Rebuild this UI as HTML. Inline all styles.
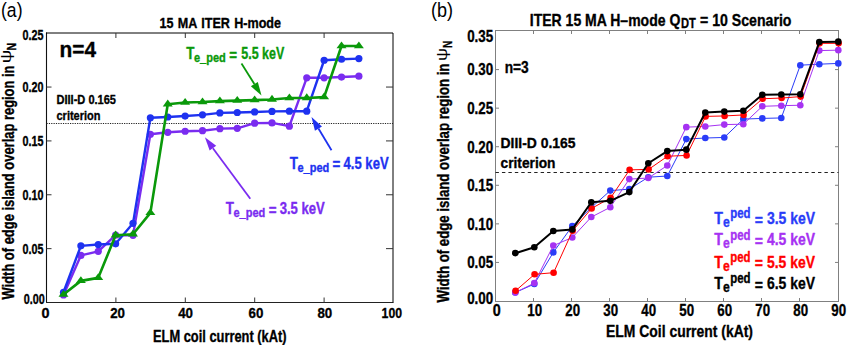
<!DOCTYPE html>
<html><head><meta charset="utf-8"><style>
html,body{margin:0;padding:0;background:#fff;}
svg{display:block;font-family:"Liberation Sans", sans-serif;}
</style></head><body>
<svg width="849" height="345" viewBox="0 0 849 345">
<rect width="849" height="345" fill="#fff"/>
<line x1="46.5" y1="302.5" x2="46.5" y2="32.5" stroke="#111" stroke-width="1.1"/>
<line x1="46" y1="302.5" x2="393.5" y2="302.5" stroke="#222" stroke-width="1.1"/>
<line x1="46" y1="33" x2="393" y2="33" stroke="#000" stroke-width="1"/>
<line x1="393" y1="33" x2="393" y2="302.5" stroke="#000" stroke-width="1"/>
<line x1="115.90" y1="302.5" x2="115.90" y2="297.5" stroke="#333" stroke-width="1"/>
<line x1="115.90" y1="33" x2="115.90" y2="38" stroke="#333" stroke-width="1"/>
<line x1="185.30" y1="302.5" x2="185.30" y2="297.5" stroke="#333" stroke-width="1"/>
<line x1="185.30" y1="33" x2="185.30" y2="38" stroke="#333" stroke-width="1"/>
<line x1="254.70" y1="302.5" x2="254.70" y2="297.5" stroke="#333" stroke-width="1"/>
<line x1="254.70" y1="33" x2="254.70" y2="38" stroke="#333" stroke-width="1"/>
<line x1="324.10" y1="302.5" x2="324.10" y2="297.5" stroke="#333" stroke-width="1"/>
<line x1="324.10" y1="33" x2="324.10" y2="38" stroke="#333" stroke-width="1"/>
<line x1="46.5" y1="248.64" x2="51.5" y2="248.64" stroke="#333" stroke-width="1"/>
<line x1="393" y1="248.64" x2="386" y2="248.64" stroke="#333" stroke-width="1"/>
<line x1="46.5" y1="194.78" x2="51.5" y2="194.78" stroke="#333" stroke-width="1"/>
<line x1="393" y1="194.78" x2="386" y2="194.78" stroke="#333" stroke-width="1"/>
<line x1="46.5" y1="140.92" x2="51.5" y2="140.92" stroke="#333" stroke-width="1"/>
<line x1="393" y1="140.92" x2="386" y2="140.92" stroke="#333" stroke-width="1"/>
<line x1="46.5" y1="87.06" x2="51.5" y2="87.06" stroke="#333" stroke-width="1"/>
<line x1="393" y1="87.06" x2="386" y2="87.06" stroke="#333" stroke-width="1"/>
<line x1="46.5" y1="123.5" x2="393" y2="123.5" stroke="#222" stroke-width="1" stroke-dasharray="1.2,1.15"/>
<polyline points="63.49,294.96 80.87,255.43 98.25,251.33 115.62,235.18 133.00,235.28 150.37,134.24 167.75,132.30 185.12,131.23 202.50,130.69 219.87,128.64 237.25,128.32 254.62,123.15 272.00,122.93 289.37,126.16 306.75,77.80 324.12,77.80 341.50,77.04 358.87,76.18" fill="none" stroke="#7a2cf0" stroke-width="2.4" stroke-linejoin="round"/>
<circle cx="63.49" cy="294.96" r="3.6" fill="#7a2cf0"/>
<circle cx="80.87" cy="255.43" r="3.6" fill="#7a2cf0"/>
<circle cx="98.25" cy="251.33" r="3.6" fill="#7a2cf0"/>
<circle cx="115.62" cy="235.18" r="3.6" fill="#7a2cf0"/>
<circle cx="133.00" cy="235.28" r="3.6" fill="#7a2cf0"/>
<circle cx="150.37" cy="134.24" r="3.6" fill="#7a2cf0"/>
<circle cx="167.75" cy="132.30" r="3.6" fill="#7a2cf0"/>
<circle cx="185.12" cy="131.23" r="3.6" fill="#7a2cf0"/>
<circle cx="202.50" cy="130.69" r="3.6" fill="#7a2cf0"/>
<circle cx="219.87" cy="128.64" r="3.6" fill="#7a2cf0"/>
<circle cx="237.25" cy="128.32" r="3.6" fill="#7a2cf0"/>
<circle cx="254.62" cy="123.15" r="3.6" fill="#7a2cf0"/>
<circle cx="272.00" cy="122.93" r="3.6" fill="#7a2cf0"/>
<circle cx="289.37" cy="126.16" r="3.6" fill="#7a2cf0"/>
<circle cx="306.75" cy="77.80" r="3.6" fill="#7a2cf0"/>
<circle cx="324.12" cy="77.80" r="3.6" fill="#7a2cf0"/>
<circle cx="341.50" cy="77.04" r="3.6" fill="#7a2cf0"/>
<circle cx="358.87" cy="76.18" r="3.6" fill="#7a2cf0"/>
<polyline points="63.49,292.27 80.87,245.84 98.25,244.55 115.62,243.79 133.00,223.33 150.37,117.76 167.75,117.01 185.12,116.04 202.50,114.85 219.87,112.91 237.25,112.48 254.62,111.94 272.00,111.40 289.37,111.19 306.75,111.19 324.12,60.24 341.50,59.27 358.87,58.62" fill="none" stroke="#1e32f0" stroke-width="2.4" stroke-linejoin="round"/>
<circle cx="63.49" cy="292.27" r="3.6" fill="#1e32f0"/>
<circle cx="80.87" cy="245.84" r="3.6" fill="#1e32f0"/>
<circle cx="98.25" cy="244.55" r="3.6" fill="#1e32f0"/>
<circle cx="115.62" cy="243.79" r="3.6" fill="#1e32f0"/>
<circle cx="133.00" cy="223.33" r="3.6" fill="#1e32f0"/>
<circle cx="150.37" cy="117.76" r="3.6" fill="#1e32f0"/>
<circle cx="167.75" cy="117.01" r="3.6" fill="#1e32f0"/>
<circle cx="185.12" cy="116.04" r="3.6" fill="#1e32f0"/>
<circle cx="202.50" cy="114.85" r="3.6" fill="#1e32f0"/>
<circle cx="219.87" cy="112.91" r="3.6" fill="#1e32f0"/>
<circle cx="237.25" cy="112.48" r="3.6" fill="#1e32f0"/>
<circle cx="254.62" cy="111.94" r="3.6" fill="#1e32f0"/>
<circle cx="272.00" cy="111.40" r="3.6" fill="#1e32f0"/>
<circle cx="289.37" cy="111.19" r="3.6" fill="#1e32f0"/>
<circle cx="306.75" cy="111.19" r="3.6" fill="#1e32f0"/>
<circle cx="324.12" cy="60.24" r="3.6" fill="#1e32f0"/>
<circle cx="341.50" cy="59.27" r="3.6" fill="#1e32f0"/>
<circle cx="358.87" cy="58.62" r="3.6" fill="#1e32f0"/>
<polyline points="63.49,294.54 80.87,280.86 98.25,277.85 115.62,235.19 133.00,234.22 150.37,212.89 167.75,104.20 185.12,102.48 202.50,102.05 219.87,101.08 237.25,100.65 254.62,100.11 272.00,99.46 289.37,98.06 306.75,97.95 324.12,97.09 341.50,46.03 358.87,46.03" fill="none" stroke="#0a990a" stroke-width="2.6" stroke-linejoin="round"/>
<polygon points="63.49,289.94 58.49,296.74 68.50,296.74" fill="#0a990a"/>
<polygon points="80.87,276.26 75.87,283.06 85.87,283.06" fill="#0a990a"/>
<polygon points="98.25,273.25 93.25,280.05 103.25,280.05" fill="#0a990a"/>
<polygon points="115.62,230.59 110.62,237.39 120.62,237.39" fill="#0a990a"/>
<polygon points="133.00,229.62 128.00,236.42 138.00,236.42" fill="#0a990a"/>
<polygon points="150.37,208.29 145.37,215.09 155.37,215.09" fill="#0a990a"/>
<polygon points="167.75,99.60 162.75,106.40 172.75,106.40" fill="#0a990a"/>
<polygon points="185.12,97.88 180.12,104.68 190.12,104.68" fill="#0a990a"/>
<polygon points="202.50,97.45 197.50,104.25 207.50,104.25" fill="#0a990a"/>
<polygon points="219.87,96.48 214.87,103.28 224.87,103.28" fill="#0a990a"/>
<polygon points="237.25,96.05 232.25,102.85 242.25,102.85" fill="#0a990a"/>
<polygon points="254.62,95.51 249.62,102.31 259.62,102.31" fill="#0a990a"/>
<polygon points="272.00,94.86 267.00,101.66 277.00,101.66" fill="#0a990a"/>
<polygon points="289.37,93.46 284.37,100.26 294.37,100.26" fill="#0a990a"/>
<polygon points="306.75,93.35 301.75,100.15 311.75,100.15" fill="#0a990a"/>
<polygon points="324.12,92.49 319.12,99.29 329.12,99.29" fill="#0a990a"/>
<polygon points="341.50,41.43 336.50,48.23 346.50,48.23" fill="#0a990a"/>
<polygon points="358.87,41.43 353.87,48.23 363.87,48.23" fill="#0a990a"/>
<line x1="241.5" y1="63.5" x2="254.35" y2="84.05" stroke="#0a990a" stroke-width="1.8"/>
<polygon points="261.5,95.5 250.87,86.23 257.82,81.88" fill="#0a990a"/>
<line x1="331.5" y1="150.3" x2="318.45" y2="128.57" stroke="#1e32f0" stroke-width="1.8"/>
<polygon points="311.5,117 321.97,126.46 314.94,130.68" fill="#1e32f0"/>
<line x1="250.3" y1="198.8" x2="212.92" y2="148.16" stroke="#7a2cf0" stroke-width="1.8"/>
<polygon points="204.9,137.3 216.22,145.73 209.62,150.60" fill="#7a2cf0"/>
<text x="1" y="16.6" font-size="20.5" font-weight="normal" fill="#000" text-anchor="start" textLength="21.5" lengthAdjust="spacingAndGlyphs" >(a)</text>
<text x="159.5" y="28.3" font-size="15.4" font-weight="bold" fill="#000" text-anchor="start" textLength="121.5" lengthAdjust="spacingAndGlyphs" stroke="#000" stroke-width="0.35" stroke-linejoin="round" word-spacing="1">15 MA ITER H-mode</text>
<text x="59.5" y="56.8" font-size="22" font-weight="bold" fill="#000" text-anchor="start" textLength="36.5" lengthAdjust="spacingAndGlyphs" stroke="#000" stroke-width="0.35" stroke-linejoin="round" >n=4</text>
<text x="56.5" y="104.2" font-size="13" font-weight="bold" fill="#000" text-anchor="start" textLength="59.5" lengthAdjust="spacingAndGlyphs" stroke="#000" stroke-width="0.35" stroke-linejoin="round" >DIII-D 0.165</text>
<text x="56.5" y="120.2" font-size="13" font-weight="bold" fill="#000" text-anchor="start" textLength="44" lengthAdjust="spacingAndGlyphs" stroke="#000" stroke-width="0.35" stroke-linejoin="round" >criterion</text>
<text x="186.3" y="59.0" font-size="16" font-weight="bold" fill="#0a990a" text-anchor="start" textLength="8.2" lengthAdjust="spacingAndGlyphs" stroke="#0a990a" stroke-width="0.35" stroke-linejoin="round" >T</text>
<text x="194.0" y="62.4" font-size="13" font-weight="bold" fill="#0a990a" text-anchor="start" textLength="31.8" lengthAdjust="spacingAndGlyphs" stroke="#0a990a" stroke-width="0.35" stroke-linejoin="round" >e_ped</text>
<text x="229.3" y="60.8" font-size="16" font-weight="bold" fill="#0a990a" text-anchor="start" textLength="7.8" lengthAdjust="spacingAndGlyphs" stroke="#0a990a" stroke-width="0.35" stroke-linejoin="round" >=</text>
<text x="241.3" y="59.0" font-size="16" font-weight="bold" fill="#0a990a" text-anchor="start" textLength="43" lengthAdjust="spacingAndGlyphs" stroke="#0a990a" stroke-width="0.35" stroke-linejoin="round" >5.5 keV</text>
<text x="289.7" y="168.6" font-size="16" font-weight="bold" fill="#1e32f0" text-anchor="start" textLength="8.2" lengthAdjust="spacingAndGlyphs" stroke="#1e32f0" stroke-width="0.35" stroke-linejoin="round" >T</text>
<text x="297.5" y="172.0" font-size="13" font-weight="bold" fill="#1e32f0" text-anchor="start" textLength="31.8" lengthAdjust="spacingAndGlyphs" stroke="#1e32f0" stroke-width="0.35" stroke-linejoin="round" >e_ped</text>
<text x="332.6" y="170.4" font-size="16" font-weight="bold" fill="#1e32f0" text-anchor="start" textLength="7.8" lengthAdjust="spacingAndGlyphs" stroke="#1e32f0" stroke-width="0.35" stroke-linejoin="round" >=</text>
<text x="343.6" y="168.6" font-size="16" font-weight="bold" fill="#1e32f0" text-anchor="start" textLength="45" lengthAdjust="spacingAndGlyphs" stroke="#1e32f0" stroke-width="0.35" stroke-linejoin="round" >4.5 keV</text>
<text x="225.8" y="214.0" font-size="16" font-weight="bold" fill="#7a2cf0" text-anchor="start" textLength="8.2" lengthAdjust="spacingAndGlyphs" stroke="#7a2cf0" stroke-width="0.35" stroke-linejoin="round" >T</text>
<text x="233.5" y="217.4" font-size="13" font-weight="bold" fill="#7a2cf0" text-anchor="start" textLength="31.8" lengthAdjust="spacingAndGlyphs" stroke="#7a2cf0" stroke-width="0.35" stroke-linejoin="round" >e_ped</text>
<text x="268.7" y="215.8" font-size="16" font-weight="bold" fill="#7a2cf0" text-anchor="start" textLength="7.8" lengthAdjust="spacingAndGlyphs" stroke="#7a2cf0" stroke-width="0.35" stroke-linejoin="round" >=</text>
<text x="279.7" y="214.0" font-size="16" font-weight="bold" fill="#7a2cf0" text-anchor="start" textLength="45" lengthAdjust="spacingAndGlyphs" stroke="#7a2cf0" stroke-width="0.35" stroke-linejoin="round" >3.5 keV</text>
<text x="44.8" y="304.3" font-size="14" font-weight="bold" fill="#000" text-anchor="end" textLength="21" lengthAdjust="spacingAndGlyphs" stroke="#000" stroke-width="0.35" stroke-linejoin="round" >0.00</text>
<text x="43.4" y="253.64" font-size="14" font-weight="bold" fill="#000" text-anchor="end" textLength="21" lengthAdjust="spacingAndGlyphs" stroke="#000" stroke-width="0.35" stroke-linejoin="round" >0.05</text>
<text x="43.4" y="199.77999999999997" font-size="14" font-weight="bold" fill="#000" text-anchor="end" textLength="21" lengthAdjust="spacingAndGlyphs" stroke="#000" stroke-width="0.35" stroke-linejoin="round" >0.10</text>
<text x="43.4" y="145.91999999999996" font-size="14" font-weight="bold" fill="#000" text-anchor="end" textLength="21" lengthAdjust="spacingAndGlyphs" stroke="#000" stroke-width="0.35" stroke-linejoin="round" >0.15</text>
<text x="43.4" y="92.05999999999997" font-size="14" font-weight="bold" fill="#000" text-anchor="end" textLength="21" lengthAdjust="spacingAndGlyphs" stroke="#000" stroke-width="0.35" stroke-linejoin="round" >0.20</text>
<text x="43.4" y="39.8" font-size="14" font-weight="bold" fill="#000" text-anchor="end" textLength="21" lengthAdjust="spacingAndGlyphs" stroke="#000" stroke-width="0.35" stroke-linejoin="round" >0.25</text>
<text x="45.6" y="317.7" font-size="15.5" font-weight="bold" fill="#000" text-anchor="middle" textLength="8" lengthAdjust="spacingAndGlyphs" stroke="#000" stroke-width="0.35" stroke-linejoin="round" >0</text>
<text x="117.6" y="317.7" font-size="15.5" font-weight="bold" fill="#000" text-anchor="middle" textLength="14.8" lengthAdjust="spacingAndGlyphs" stroke="#000" stroke-width="0.35" stroke-linejoin="round" >20</text>
<text x="185.6" y="317.7" font-size="15.5" font-weight="bold" fill="#000" text-anchor="middle" textLength="14.8" lengthAdjust="spacingAndGlyphs" stroke="#000" stroke-width="0.35" stroke-linejoin="round" >40</text>
<text x="256" y="317.7" font-size="15.5" font-weight="bold" fill="#000" text-anchor="middle" textLength="14.8" lengthAdjust="spacingAndGlyphs" stroke="#000" stroke-width="0.35" stroke-linejoin="round" >60</text>
<text x="324.8" y="317.7" font-size="15.5" font-weight="bold" fill="#000" text-anchor="middle" textLength="14.8" lengthAdjust="spacingAndGlyphs" stroke="#000" stroke-width="0.35" stroke-linejoin="round" >80</text>
<text x="391.8" y="317.7" font-size="15.5" font-weight="bold" fill="#000" text-anchor="middle" textLength="20.5" lengthAdjust="spacingAndGlyphs" stroke="#000" stroke-width="0.35" stroke-linejoin="round" >100</text>
<text x="153" y="341.6" font-size="16" font-weight="bold" fill="#000" text-anchor="start" textLength="133.5" lengthAdjust="spacingAndGlyphs" stroke="#000" stroke-width="0.35" stroke-linejoin="round" >ELM coil current (kAt)</text>
<text transform="translate(13.6,299.5) rotate(-90)" font-size="16.5" font-weight="bold" stroke="#000" stroke-width="0.35" textLength="234.0" lengthAdjust="spacingAndGlyphs">Width of edge island overlap region in</text>
<text transform="translate(11,56.6) rotate(-90) scale(1.35,1)" font-size="14" text-anchor="middle">ψ</text>
<text transform="translate(15.5,50.4) rotate(-90)" font-size="12.5" font-weight="bold" stroke="#000" stroke-width="0.35" textLength="7.6" lengthAdjust="spacingAndGlyphs">N</text>
<rect x="495.5" y="30.5" width="343.0" height="271.0" fill="none" stroke="#808080" stroke-width="1"/>
<line x1="533.50" y1="301.5" x2="533.50" y2="298.0" stroke="#808080" stroke-width="1"/>
<line x1="533.50" y1="30.5" x2="533.50" y2="34.0" stroke="#808080" stroke-width="1"/>
<line x1="571.50" y1="301.5" x2="571.50" y2="298.0" stroke="#808080" stroke-width="1"/>
<line x1="571.50" y1="30.5" x2="571.50" y2="34.0" stroke="#808080" stroke-width="1"/>
<line x1="609.50" y1="301.5" x2="609.50" y2="298.0" stroke="#808080" stroke-width="1"/>
<line x1="609.50" y1="30.5" x2="609.50" y2="34.0" stroke="#808080" stroke-width="1"/>
<line x1="647.50" y1="301.5" x2="647.50" y2="298.0" stroke="#808080" stroke-width="1"/>
<line x1="647.50" y1="30.5" x2="647.50" y2="34.0" stroke="#808080" stroke-width="1"/>
<line x1="685.50" y1="301.5" x2="685.50" y2="298.0" stroke="#808080" stroke-width="1"/>
<line x1="685.50" y1="30.5" x2="685.50" y2="34.0" stroke="#808080" stroke-width="1"/>
<line x1="723.50" y1="301.5" x2="723.50" y2="298.0" stroke="#808080" stroke-width="1"/>
<line x1="723.50" y1="30.5" x2="723.50" y2="34.0" stroke="#808080" stroke-width="1"/>
<line x1="761.50" y1="301.5" x2="761.50" y2="298.0" stroke="#808080" stroke-width="1"/>
<line x1="761.50" y1="30.5" x2="761.50" y2="34.0" stroke="#808080" stroke-width="1"/>
<line x1="799.50" y1="301.5" x2="799.50" y2="298.0" stroke="#808080" stroke-width="1"/>
<line x1="799.50" y1="30.5" x2="799.50" y2="34.0" stroke="#808080" stroke-width="1"/>
<line x1="495.5" y1="262.43" x2="499.0" y2="262.43" stroke="#808080" stroke-width="1"/>
<line x1="838.5" y1="262.43" x2="835.0" y2="262.43" stroke="#808080" stroke-width="1"/>
<line x1="495.5" y1="223.86" x2="499.0" y2="223.86" stroke="#808080" stroke-width="1"/>
<line x1="838.5" y1="223.86" x2="835.0" y2="223.86" stroke="#808080" stroke-width="1"/>
<line x1="495.5" y1="185.29" x2="499.0" y2="185.29" stroke="#808080" stroke-width="1"/>
<line x1="838.5" y1="185.29" x2="835.0" y2="185.29" stroke="#808080" stroke-width="1"/>
<line x1="495.5" y1="146.72" x2="499.0" y2="146.72" stroke="#808080" stroke-width="1"/>
<line x1="838.5" y1="146.72" x2="835.0" y2="146.72" stroke="#808080" stroke-width="1"/>
<line x1="495.5" y1="108.15" x2="499.0" y2="108.15" stroke="#808080" stroke-width="1"/>
<line x1="838.5" y1="108.15" x2="835.0" y2="108.15" stroke="#808080" stroke-width="1"/>
<line x1="495.5" y1="69.58" x2="499.0" y2="69.58" stroke="#808080" stroke-width="1"/>
<line x1="838.5" y1="69.58" x2="835.0" y2="69.58" stroke="#808080" stroke-width="1"/>
<line x1="495.5" y1="172.5" x2="838.5" y2="172.5" stroke="#222" stroke-width="1" stroke-dasharray="3.4,3.05"/>
<polyline points="515.30,292.51 534.30,284.03 553.30,252.40 572.30,226.02 591.30,207.66 610.30,190.61 629.30,189.15 648.30,177.19 667.30,176.03 686.30,139.08 705.30,138.00 724.30,137.46 743.30,119.10 762.30,118.41 781.30,117.95 800.30,65.18 819.30,64.18 838.30,63.41" fill="none" stroke="#2a3cf8" stroke-width="1.0" stroke-linejoin="round"/>
<circle cx="515.30" cy="292.51" r="3.3" fill="#2a3cf8"/>
<circle cx="534.30" cy="284.03" r="3.3" fill="#2a3cf8"/>
<circle cx="553.30" cy="252.40" r="3.3" fill="#2a3cf8"/>
<circle cx="572.30" cy="226.02" r="3.3" fill="#2a3cf8"/>
<circle cx="591.30" cy="207.66" r="3.3" fill="#2a3cf8"/>
<circle cx="610.30" cy="190.61" r="3.3" fill="#2a3cf8"/>
<circle cx="629.30" cy="189.15" r="3.3" fill="#2a3cf8"/>
<circle cx="648.30" cy="177.19" r="3.3" fill="#2a3cf8"/>
<circle cx="667.30" cy="176.03" r="3.3" fill="#2a3cf8"/>
<circle cx="686.30" cy="139.08" r="3.3" fill="#2a3cf8"/>
<circle cx="705.30" cy="138.00" r="3.3" fill="#2a3cf8"/>
<circle cx="724.30" cy="137.46" r="3.3" fill="#2a3cf8"/>
<circle cx="743.30" cy="119.10" r="3.3" fill="#2a3cf8"/>
<circle cx="762.30" cy="118.41" r="3.3" fill="#2a3cf8"/>
<circle cx="781.30" cy="117.95" r="3.3" fill="#2a3cf8"/>
<circle cx="800.30" cy="65.18" r="3.3" fill="#2a3cf8"/>
<circle cx="819.30" cy="64.18" r="3.3" fill="#2a3cf8"/>
<circle cx="838.30" cy="63.41" r="3.3" fill="#2a3cf8"/>
<polyline points="515.30,292.51 534.30,283.10 553.30,245.61 572.30,237.51 591.30,217.07 610.30,207.27 629.30,179.12 648.30,178.04 667.30,165.54 686.30,127.13 705.30,126.43 724.30,124.58 743.30,124.20 762.30,106.30 781.30,105.68 800.30,105.22 819.30,50.60 838.30,50.14" fill="none" stroke="#a632f2" stroke-width="1.0" stroke-linejoin="round"/>
<circle cx="515.30" cy="292.51" r="3.3" fill="#a632f2"/>
<circle cx="534.30" cy="283.10" r="3.3" fill="#a632f2"/>
<circle cx="553.30" cy="245.61" r="3.3" fill="#a632f2"/>
<circle cx="572.30" cy="237.51" r="3.3" fill="#a632f2"/>
<circle cx="591.30" cy="217.07" r="3.3" fill="#a632f2"/>
<circle cx="610.30" cy="207.27" r="3.3" fill="#a632f2"/>
<circle cx="629.30" cy="179.12" r="3.3" fill="#a632f2"/>
<circle cx="648.30" cy="178.04" r="3.3" fill="#a632f2"/>
<circle cx="667.30" cy="165.54" r="3.3" fill="#a632f2"/>
<circle cx="686.30" cy="127.13" r="3.3" fill="#a632f2"/>
<circle cx="705.30" cy="126.43" r="3.3" fill="#a632f2"/>
<circle cx="724.30" cy="124.58" r="3.3" fill="#a632f2"/>
<circle cx="743.30" cy="124.20" r="3.3" fill="#a632f2"/>
<circle cx="762.30" cy="106.30" r="3.3" fill="#a632f2"/>
<circle cx="781.30" cy="105.68" r="3.3" fill="#a632f2"/>
<circle cx="800.30" cy="105.22" r="3.3" fill="#a632f2"/>
<circle cx="819.30" cy="50.60" r="3.3" fill="#a632f2"/>
<circle cx="838.30" cy="50.14" r="3.3" fill="#a632f2"/>
<polyline points="515.60,290.74 534.60,274.31 553.60,272.69 572.60,230.80 591.60,208.43 610.60,197.86 629.60,169.86 648.60,169.40 667.60,156.21 686.60,155.44 705.60,116.40 724.60,115.94 743.60,114.94 762.60,98.74 781.60,98.04 800.60,96.58 819.60,43.35 838.60,43.35" fill="none" stroke="#ff0000" stroke-width="1.0" stroke-linejoin="round"/>
<circle cx="515.60" cy="290.74" r="3.3" fill="#ff0000"/>
<circle cx="534.60" cy="274.31" r="3.3" fill="#ff0000"/>
<circle cx="553.60" cy="272.69" r="3.3" fill="#ff0000"/>
<circle cx="572.60" cy="230.80" r="3.3" fill="#ff0000"/>
<circle cx="591.60" cy="208.43" r="3.3" fill="#ff0000"/>
<circle cx="610.60" cy="197.86" r="3.3" fill="#ff0000"/>
<circle cx="629.60" cy="169.86" r="3.3" fill="#ff0000"/>
<circle cx="648.60" cy="169.40" r="3.3" fill="#ff0000"/>
<circle cx="667.60" cy="156.21" r="3.3" fill="#ff0000"/>
<circle cx="686.60" cy="155.44" r="3.3" fill="#ff0000"/>
<circle cx="705.60" cy="116.40" r="3.3" fill="#ff0000"/>
<circle cx="724.60" cy="115.94" r="3.3" fill="#ff0000"/>
<circle cx="743.60" cy="114.94" r="3.3" fill="#ff0000"/>
<circle cx="762.60" cy="98.74" r="3.3" fill="#ff0000"/>
<circle cx="781.60" cy="98.04" r="3.3" fill="#ff0000"/>
<circle cx="800.60" cy="96.58" r="3.3" fill="#ff0000"/>
<circle cx="819.60" cy="43.35" r="3.3" fill="#ff0000"/>
<circle cx="838.60" cy="43.35" r="3.3" fill="#ff0000"/>
<polyline points="515.30,253.17 534.30,247.31 553.30,231.03 572.30,229.41 591.30,202.26 610.30,200.87 629.30,192.08 648.30,163.23 667.30,151.12 686.30,149.65 705.30,112.55 724.30,111.62 743.30,110.77 762.30,94.80 781.30,94.57 800.30,94.26 819.30,42.04 838.30,41.66" fill="none" stroke="#000" stroke-width="2.0" stroke-linejoin="round"/>
<circle cx="515.30" cy="253.17" r="3.3" fill="#000"/>
<circle cx="534.30" cy="247.31" r="3.3" fill="#000"/>
<circle cx="553.30" cy="231.03" r="3.3" fill="#000"/>
<circle cx="572.30" cy="229.41" r="3.3" fill="#000"/>
<circle cx="591.30" cy="202.26" r="3.3" fill="#000"/>
<circle cx="610.30" cy="200.87" r="3.3" fill="#000"/>
<circle cx="629.30" cy="192.08" r="3.3" fill="#000"/>
<circle cx="648.30" cy="163.23" r="3.3" fill="#000"/>
<circle cx="667.30" cy="151.12" r="3.3" fill="#000"/>
<circle cx="686.30" cy="149.65" r="3.3" fill="#000"/>
<circle cx="705.30" cy="112.55" r="3.3" fill="#000"/>
<circle cx="724.30" cy="111.62" r="3.3" fill="#000"/>
<circle cx="743.30" cy="110.77" r="3.3" fill="#000"/>
<circle cx="762.30" cy="94.80" r="3.3" fill="#000"/>
<circle cx="781.30" cy="94.57" r="3.3" fill="#000"/>
<circle cx="800.30" cy="94.26" r="3.3" fill="#000"/>
<circle cx="819.30" cy="42.04" r="3.3" fill="#000"/>
<circle cx="838.30" cy="41.66" r="3.3" fill="#000"/>
<text x="431" y="16.6" font-size="20.5" font-weight="normal" fill="#000" text-anchor="start" textLength="22" lengthAdjust="spacingAndGlyphs" >(b)</text>
<text x="504.7" y="73.2" font-size="16" font-weight="bold" fill="#000" text-anchor="start" textLength="24" lengthAdjust="spacingAndGlyphs" stroke="#000" stroke-width="0.35" stroke-linejoin="round" >n=3</text>
<text x="500.5" y="147.8" font-size="15.5" font-weight="bold" fill="#000" text-anchor="start" textLength="75" lengthAdjust="spacingAndGlyphs" stroke="#000" stroke-width="0.35" stroke-linejoin="round" >DIII-D 0.165</text>
<text x="500.5" y="168" font-size="15.5" font-weight="bold" fill="#000" text-anchor="start" textLength="55" lengthAdjust="spacingAndGlyphs" stroke="#000" stroke-width="0.35" stroke-linejoin="round" >criterion</text>
<text x="529.8" y="25.6" font-size="17" font-weight="bold" fill="#000" text-anchor="start" textLength="150.5" lengthAdjust="spacingAndGlyphs" stroke="#000" stroke-width="0.35" stroke-linejoin="round" >ITER 15 MA H–mode Q</text>
<text x="681" y="28.3" font-size="14" font-weight="bold" fill="#000" text-anchor="start" textLength="14.8" lengthAdjust="spacingAndGlyphs" stroke="#000" stroke-width="0.35" stroke-linejoin="round" >DT</text>
<text x="700" y="25.6" font-size="17" font-weight="bold" fill="#000" text-anchor="start" textLength="91.5" lengthAdjust="spacingAndGlyphs" stroke="#000" stroke-width="0.35" stroke-linejoin="round" >= 10 Scenario</text>
<text x="714.3" y="223.9" font-size="16.5" font-weight="bold" fill="#2a3cf8" text-anchor="start" textLength="8.7" lengthAdjust="spacingAndGlyphs" stroke="#2a3cf8" stroke-width="0.35" stroke-linejoin="round" >T</text>
<text x="723" y="226.9" font-size="15" font-weight="bold" fill="#2a3cf8" text-anchor="start" textLength="6.8" lengthAdjust="spacingAndGlyphs" stroke="#2a3cf8" stroke-width="0.35" stroke-linejoin="round" >e</text>
<text x="730.2" y="218.20000000000002" font-size="14" font-weight="bold" fill="#2a3cf8" text-anchor="start" textLength="20.3" lengthAdjust="spacingAndGlyphs" stroke="#2a3cf8" stroke-width="0.35" stroke-linejoin="round" >ped</text>
<text x="754.8" y="225.5" font-size="17" font-weight="bold" fill="#2a3cf8" text-anchor="start" textLength="8.2" lengthAdjust="spacingAndGlyphs" stroke="#2a3cf8" stroke-width="0.35" stroke-linejoin="round" >=</text>
<text x="767.0" y="223.9" font-size="16.8" font-weight="bold" fill="#2a3cf8" text-anchor="start" textLength="48" lengthAdjust="spacingAndGlyphs" stroke="#2a3cf8" stroke-width="0.35" stroke-linejoin="round" >3.5 keV</text>
<text x="714.3" y="245.2" font-size="16.5" font-weight="bold" fill="#a632f2" text-anchor="start" textLength="8.7" lengthAdjust="spacingAndGlyphs" stroke="#a632f2" stroke-width="0.35" stroke-linejoin="round" >T</text>
<text x="723" y="248.2" font-size="15" font-weight="bold" fill="#a632f2" text-anchor="start" textLength="6.8" lengthAdjust="spacingAndGlyphs" stroke="#a632f2" stroke-width="0.35" stroke-linejoin="round" >e</text>
<text x="730.2" y="239.5" font-size="14" font-weight="bold" fill="#a632f2" text-anchor="start" textLength="20.3" lengthAdjust="spacingAndGlyphs" stroke="#a632f2" stroke-width="0.35" stroke-linejoin="round" >ped</text>
<text x="754.8" y="246.79999999999998" font-size="17" font-weight="bold" fill="#a632f2" text-anchor="start" textLength="8.2" lengthAdjust="spacingAndGlyphs" stroke="#a632f2" stroke-width="0.35" stroke-linejoin="round" >=</text>
<text x="767.0" y="245.2" font-size="16.8" font-weight="bold" fill="#a632f2" text-anchor="start" textLength="48" lengthAdjust="spacingAndGlyphs" stroke="#a632f2" stroke-width="0.35" stroke-linejoin="round" >4.5 keV</text>
<text x="714.3" y="267.7" font-size="16.5" font-weight="bold" fill="#ff0000" text-anchor="start" textLength="8.7" lengthAdjust="spacingAndGlyphs" stroke="#ff0000" stroke-width="0.35" stroke-linejoin="round" >T</text>
<text x="723" y="270.7" font-size="15" font-weight="bold" fill="#ff0000" text-anchor="start" textLength="6.8" lengthAdjust="spacingAndGlyphs" stroke="#ff0000" stroke-width="0.35" stroke-linejoin="round" >e</text>
<text x="730.2" y="262.0" font-size="14" font-weight="bold" fill="#ff0000" text-anchor="start" textLength="20.3" lengthAdjust="spacingAndGlyphs" stroke="#ff0000" stroke-width="0.35" stroke-linejoin="round" >ped</text>
<text x="754.8" y="269.3" font-size="17" font-weight="bold" fill="#ff0000" text-anchor="start" textLength="8.2" lengthAdjust="spacingAndGlyphs" stroke="#ff0000" stroke-width="0.35" stroke-linejoin="round" >=</text>
<text x="767.0" y="267.7" font-size="16.8" font-weight="bold" fill="#ff0000" text-anchor="start" textLength="48" lengthAdjust="spacingAndGlyphs" stroke="#ff0000" stroke-width="0.35" stroke-linejoin="round" >5.5 keV</text>
<text x="714.3" y="288.9" font-size="16.5" font-weight="bold" fill="#000" text-anchor="start" textLength="8.7" lengthAdjust="spacingAndGlyphs" stroke="#000" stroke-width="0.35" stroke-linejoin="round" >T</text>
<text x="723" y="291.9" font-size="15" font-weight="bold" fill="#000" text-anchor="start" textLength="6.8" lengthAdjust="spacingAndGlyphs" stroke="#000" stroke-width="0.35" stroke-linejoin="round" >e</text>
<text x="730.2" y="283.2" font-size="14" font-weight="bold" fill="#000" text-anchor="start" textLength="20.3" lengthAdjust="spacingAndGlyphs" stroke="#000" stroke-width="0.35" stroke-linejoin="round" >ped</text>
<text x="754.8" y="290.5" font-size="17" font-weight="bold" fill="#000" text-anchor="start" textLength="8.2" lengthAdjust="spacingAndGlyphs" stroke="#000" stroke-width="0.35" stroke-linejoin="round" >=</text>
<text x="767.0" y="288.9" font-size="16.8" font-weight="bold" fill="#000" text-anchor="start" textLength="48" lengthAdjust="spacingAndGlyphs" stroke="#000" stroke-width="0.35" stroke-linejoin="round" >6.5 keV</text>
<text x="493.2" y="303.7" font-size="16.5" font-weight="bold" fill="#000" text-anchor="end" textLength="26" lengthAdjust="spacingAndGlyphs" stroke="#000" stroke-width="0.35" stroke-linejoin="round" >0.00</text>
<text x="493.2" y="268.33" font-size="16.5" font-weight="bold" fill="#000" text-anchor="end" textLength="26" lengthAdjust="spacingAndGlyphs" stroke="#000" stroke-width="0.35" stroke-linejoin="round" >0.05</text>
<text x="493.2" y="229.76000000000002" font-size="16.5" font-weight="bold" fill="#000" text-anchor="end" textLength="26" lengthAdjust="spacingAndGlyphs" stroke="#000" stroke-width="0.35" stroke-linejoin="round" >0.10</text>
<text x="493.2" y="191.19" font-size="16.5" font-weight="bold" fill="#000" text-anchor="end" textLength="26" lengthAdjust="spacingAndGlyphs" stroke="#000" stroke-width="0.35" stroke-linejoin="round" >0.15</text>
<text x="493.2" y="152.62" font-size="16.5" font-weight="bold" fill="#000" text-anchor="end" textLength="26" lengthAdjust="spacingAndGlyphs" stroke="#000" stroke-width="0.35" stroke-linejoin="round" >0.20</text>
<text x="493.2" y="114.05000000000001" font-size="16.5" font-weight="bold" fill="#000" text-anchor="end" textLength="26" lengthAdjust="spacingAndGlyphs" stroke="#000" stroke-width="0.35" stroke-linejoin="round" >0.25</text>
<text x="493.2" y="75.47999999999999" font-size="16.5" font-weight="bold" fill="#000" text-anchor="end" textLength="26" lengthAdjust="spacingAndGlyphs" stroke="#000" stroke-width="0.35" stroke-linejoin="round" >0.30</text>
<text x="493.2" y="42.2" font-size="16.5" font-weight="bold" fill="#000" text-anchor="end" textLength="26" lengthAdjust="spacingAndGlyphs" stroke="#000" stroke-width="0.35" stroke-linejoin="round" >0.35</text>
<text x="496.7" y="316.0" font-size="17" font-weight="bold" fill="#000" text-anchor="middle" textLength="8.0" lengthAdjust="spacingAndGlyphs" stroke="#000" stroke-width="0.35" stroke-linejoin="round" >0</text>
<text x="534.6999999999999" y="316.0" font-size="17" font-weight="bold" fill="#000" text-anchor="middle" textLength="14.8" lengthAdjust="spacingAndGlyphs" stroke="#000" stroke-width="0.35" stroke-linejoin="round" >10</text>
<text x="572.6999999999999" y="316.0" font-size="17" font-weight="bold" fill="#000" text-anchor="middle" textLength="14.8" lengthAdjust="spacingAndGlyphs" stroke="#000" stroke-width="0.35" stroke-linejoin="round" >20</text>
<text x="610.6999999999999" y="316.0" font-size="17" font-weight="bold" fill="#000" text-anchor="middle" textLength="14.8" lengthAdjust="spacingAndGlyphs" stroke="#000" stroke-width="0.35" stroke-linejoin="round" >30</text>
<text x="648.6999999999999" y="316.0" font-size="17" font-weight="bold" fill="#000" text-anchor="middle" textLength="14.8" lengthAdjust="spacingAndGlyphs" stroke="#000" stroke-width="0.35" stroke-linejoin="round" >40</text>
<text x="686.6999999999999" y="316.0" font-size="17" font-weight="bold" fill="#000" text-anchor="middle" textLength="14.8" lengthAdjust="spacingAndGlyphs" stroke="#000" stroke-width="0.35" stroke-linejoin="round" >50</text>
<text x="724.6999999999999" y="316.0" font-size="17" font-weight="bold" fill="#000" text-anchor="middle" textLength="14.8" lengthAdjust="spacingAndGlyphs" stroke="#000" stroke-width="0.35" stroke-linejoin="round" >60</text>
<text x="762.6999999999999" y="316.0" font-size="17" font-weight="bold" fill="#000" text-anchor="middle" textLength="14.8" lengthAdjust="spacingAndGlyphs" stroke="#000" stroke-width="0.35" stroke-linejoin="round" >70</text>
<text x="800.6999999999999" y="316.0" font-size="17" font-weight="bold" fill="#000" text-anchor="middle" textLength="14.8" lengthAdjust="spacingAndGlyphs" stroke="#000" stroke-width="0.35" stroke-linejoin="round" >80</text>
<text x="838.6999999999999" y="316.0" font-size="17" font-weight="bold" fill="#000" text-anchor="middle" textLength="14.8" lengthAdjust="spacingAndGlyphs" stroke="#000" stroke-width="0.35" stroke-linejoin="round" >90</text>
<text x="606" y="336.8" font-size="16.5" font-weight="bold" fill="#000" text-anchor="start" textLength="147" lengthAdjust="spacingAndGlyphs" stroke="#000" stroke-width="0.35" stroke-linejoin="round" >ELM Coil current (kAt)</text>
<text transform="translate(448.6,302.5) rotate(-90)" font-size="16.5" font-weight="bold" stroke="#000" stroke-width="0.35" textLength="238.9" lengthAdjust="spacingAndGlyphs">Width of edge island overlap region in</text>
<text transform="translate(447.2,54.5) rotate(-90) scale(1.3,1)" font-size="14" text-anchor="middle">ψ</text>
<text transform="translate(452.0,48) rotate(-90)" font-size="12.5" font-weight="bold" stroke="#000" stroke-width="0.35" textLength="7.3" lengthAdjust="spacingAndGlyphs">N</text>
</svg>
</body></html>
